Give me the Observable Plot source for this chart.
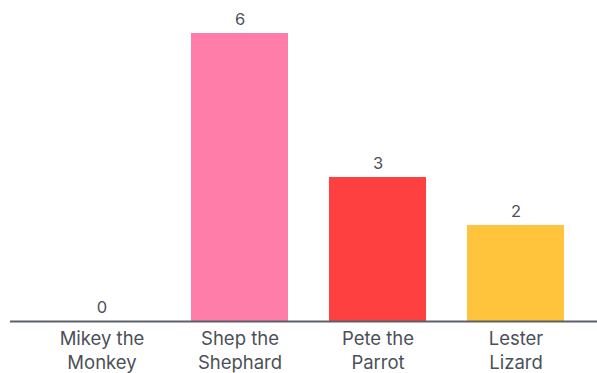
<!DOCTYPE html>
<html>
<head>
<meta charset="utf-8">
<script src="https://cdn.jsdelivr.net/npm/d3@7"></script>
<script src="https://cdn.jsdelivr.net/npm/@observablehq/plot@0.6"></script>
<style>
  html, body { margin: 0; padding: 0; background: #fff; }
  #chart svg { display: block; }
</style>
</head>
<body>
<div id="chart"></div>
<script>
const names = ["Mikey the Monkey", "Shep the Shephard", "Pete the Parrot", "Lester Lizard"];
const tickLabels = ["Mikey the\nMonkey", "Shep the\nShephard", "Pete the\nParrot", "Lester\nLizard"];
const values = [0, 6, 3, 2];
const colors = ["#8a8a8a", "#FF7DA8", "#FF4040", "#FFC43B"];

const data = names.map((n, i) => ({name: n, value: values[i], color: colors[i]}));
const labelOf = new Map(names.map((n, i) => [n, tickLabels[i]]));

const textColor = "#4b5058";
const fontFamily = "Inter, 'Noto Sans', sans-serif";

const chart = Plot.plot({
  width: 597,
  height: 373,
  marginLeft: 10,
  marginRight: 0,
  marginTop: 0,
  marginBottom: 52,
  style: {fontFamily, color: textColor, background: "#fff"},
  x: {domain: names, range: [11, 606], padding: 0.3, label: null},
  y: {domain: [0, 6], range: [321, 33], axis: null},
  marks: [
    Plot.barY(data, {x: "name", y: "value", fill: "color"}),
    Plot.axisX({
      tickSize: 0,
      tickPadding: 6,
      fontSize: 18.5,
      lineHeight: 1.3,
      tickFormat: d => labelOf.get(d),
      fill: textColor,
      label: null
    }),
    Plot.text(data, {
      x: "name", y: "value", text: d => String(d.value),
      lineAnchor: "bottom", dy: -8.5, fontSize: 16.5, fill: textColor
    }),
    Plot.ruleY([0], {stroke: "#5b6169", strokeWidth: 2})
  ]
});
document.getElementById("chart").appendChild(chart);
</script>
</body>
</html>
